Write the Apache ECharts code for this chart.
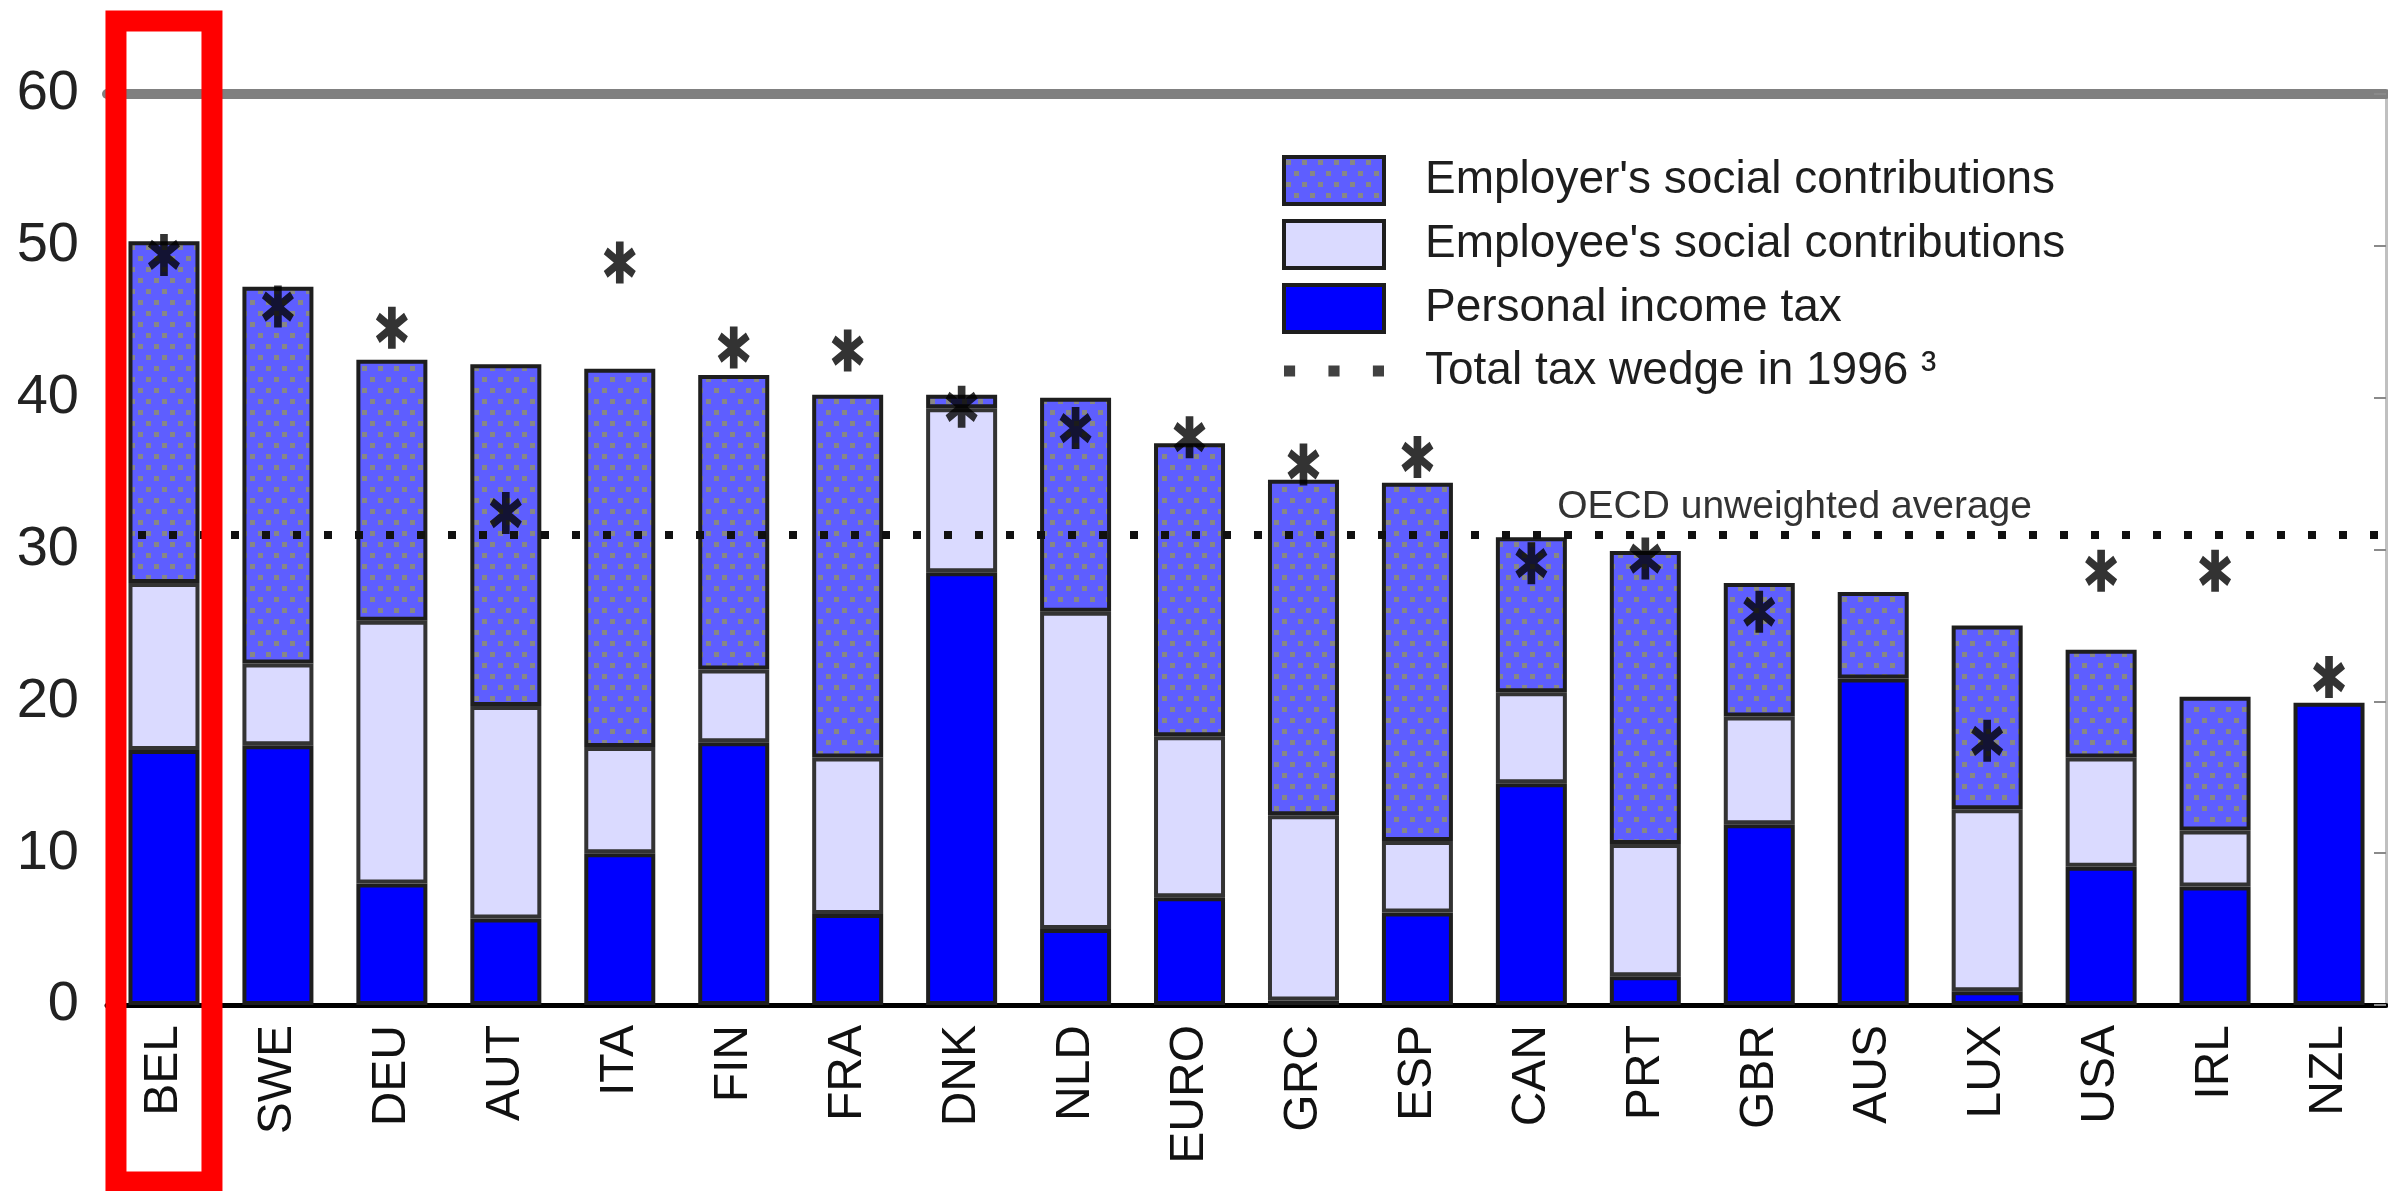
<!DOCTYPE html>
<html><head><meta charset="utf-8">
<script src="https://cdn.jsdelivr.net/npm/echarts@6/dist/echarts.min.js"></script>
<style>html,body{margin:0;padding:0;background:#fff}#c{width:2388px;height:1191px}</style>
</head><body><div id="c"></div>
<script>
const categories = ['BEL','SWE','DEU','AUT','ITA','FIN','FRA','DNK','NLD','EURO','GRC','ESP','CAN','PRT','GBR','AUS','LUX','USA','IRL','NZL'];
const personalIncomeTax = [16.8,17.1,8.0,5.7,10.0,17.3,6.0,28.5,5.0,7.1,0.3,6.1,14.6,1.9,11.9,21.5,0.9,9.1,7.8,19.9];
const employeeContrib   = [11.0,5.4,17.3,14.0,7.0,4.8,10.3,10.8,20.9,10.6,12.2,4.7,6.0,8.7,7.1,null,12.0,7.2,3.7,null];
const employerContrib   = [22.5,24.8,17.2,22.5,24.9,19.4,23.9,0.9,14.1,19.3,22.1,23.6,10.2,19.3,8.8,5.7,12.1,7.1,8.8,null];
const taxWedge1996      = [49.4,46.0,44.6,32.4,48.9,43.3,43.1,39.4,38.0,37.4,35.6,36.1,29.1,29.4,25.9,null,17.4,28.6,28.6,21.6];
const oecdAverage = 31.0;
const yMin = 0, yMax = 60, yInterval = 10;
const highlighted = 'BEL';
const names = ["Employer's social contributions", "Employee's social contributions", 'Personal income tax', 'Total tax wedge in 1996 \u00B3'];

const FONT = "'Liberation Sans', Arial, sans-serif";

function dotPattern() {
  const c = document.createElement('canvas');
  c.width = 16; c.height = 22;
  const g = c.getContext('2d');
  g.fillStyle = '#5e5eff'; g.fillRect(0, 0, 16, 22);
  g.fillStyle = '#878787';
  g.fillRect(2, 3, 5, 5);
  g.fillRect(10, 14, 5, 5);
  return c;
}
const asterisk = 'path://M3.9 0L6.1 0L6.1 10L3.9 10Z M0.4 3.0L1.5 1.4L9.6 7.0L8.5 8.6Z M1.5 8.6L0.4 7.0L8.5 1.4L9.6 3.0Z';
const threeDots = 'path://M0 0L10 0L10 10L0 10Z M40 0L50 0L50 10L40 10Z M80 0L90 0L90 10L80 10Z';

const chart = echarts.init(document.getElementById('c'), null, {renderer: 'canvas'});
const barBase = {type: 'bar', stack: 'total', barWidth: 71, xAxisIndex: 0, yAxisIndex: 0};
chart.setOption({
  animation: false,
  backgroundColor: '#ffffff',
  textStyle: {fontFamily: FONT},
  grid: {left: 107, right: 2, top: 94, bottom: 186},
  legend: {
    orient: 'vertical', left: 1277, top: 150,
    itemWidth: 100, itemHeight: 47, itemGap: 13, icon: 'rect',
    itemStyle: {borderWidth: 4, borderColor: '#1e1e1e'},
    textStyle: {fontSize: 46, color: '#1e1e1e', fontFamily: FONT, padding: [0, 0, 0, 36], lineHeight: 48},
    data: [
      {name: names[0]}, {name: names[1]}, {name: names[2]},
      {name: names[3], icon: threeDots, itemStyle: {borderWidth: 0, color: '#111'}}
    ]
  },
  xAxis: [
    {type: 'category', data: categories, position: 'bottom',
     axisLine: {show: true, onZero: false, lineStyle: {color: '#000', width: 5}},
     axisTick: {show: false},
     axisLabel: {rotate: 90, interval: 0, fontSize: 48, color: '#111', margin: 20, fontFamily: FONT}},
    {type: 'category', data: categories, position: 'top',
     axisLine: {show: true, onZero: false, lineStyle: {color: '#808080', width: 10}},
     axisTick: {show: false}, axisLabel: {show: false}}
  ],
  yAxis: [
    {type: 'value', min: yMin, max: yMax, interval: yInterval, position: 'left',
     axisLine: {show: false}, axisTick: {show: false}, splitLine: {show: false},
     axisLabel: {fontSize: 56, color: '#222', margin: 28, fontFamily: FONT}},
    {type: 'value', min: yMin, max: yMax, interval: yInterval, position: 'right',
     axisLine: {show: true, onZero: false, lineStyle: {color: '#c0c0c0', width: 3}},
     axisTick: {show: true, inside: true, length: 12, lineStyle: {color: '#8a8a8a', width: 2}},
     axisLabel: {show: false}, splitLine: {show: false}}
  ],
  series: [
    Object.assign({}, barBase, {name: names[2], data: personalIncomeTax,
      itemStyle: {color: '#0000ff', borderColor: '#1e1e1e', borderWidth: 4}}),
    Object.assign({}, barBase, {name: names[1], data: employeeContrib,
      itemStyle: {color: '#dadaff', borderColor: '#333333', borderWidth: 4}}),
    Object.assign({}, barBase, {name: names[0], data: employerContrib,
      itemStyle: {color: {image: dotPattern(), repeat: 'repeat'}, borderColor: '#1e1e1e', borderWidth: 4}}),
    {type: 'scatter', name: names[3], data: taxWedge1996, z: 5,
     symbol: asterisk, symbolSize: [32, 42],
     itemStyle: {color: '#000'},
     markLine: {
       silent: true, symbol: ['none', 'none'], z: 4,
       lineStyle: {color: '#111', width: 8, type: [8, 23], cap: 'butt'},
       label: {show: true, position: 'insideEndTop', formatter: 'OECD unweighted average',
               fontSize: 39, color: '#333', fontFamily: FONT, distance: 8, padding: [0, 346, 0, 0]},
       data: [{yAxis: oecdAverage}]
     }}
  ]
});
const p = chart.convertToPixel({xAxisIndex: 0, yAxisIndex: 0}, [highlighted, 0]);
chart.setOption({graphic: [{type: 'rect', z: 100,
  shape: {x: p[0] - 48, y: 21, width: 96, height: 1161},
  style: {fill: 'none', stroke: '#ff0000', lineWidth: 21}}]});
</script></body></html>
